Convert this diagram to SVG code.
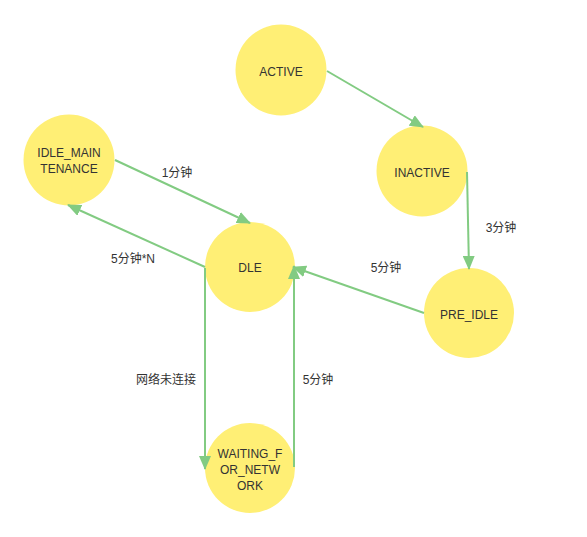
<svg xmlns="http://www.w3.org/2000/svg" width="587" height="537" viewBox="0 0 587 537">
<style>
.node circle{fill:#FFEF75;}
.node text{font-family:"Liberation Sans","Noto Sans CJK SC",sans-serif;font-size:12px;fill:#333;text-anchor:middle;dominant-baseline:central;}
.edge{stroke:#82CB82;stroke-width:2;fill:none;marker-end:url(#arr);}
.lbl{font-family:"Liberation Sans","Noto Sans CJK SC",sans-serif;font-size:12px;fill:#333;text-anchor:middle;dominant-baseline:central;}
</style>
<defs>
<marker id="arr" markerUnits="userSpaceOnUse" markerWidth="14" markerHeight="12" refX="13" refY="6" orient="auto">
<path d="M0,0 L14,6 L0,12 z" fill="#82CB82"/>
</marker>
</defs>
<rect width="587" height="537" fill="#fff"/>
<g id="nodes">
<g id="n-active" class="node"><circle cx="281" cy="70" r="45.5"/><text x="281" y="72">ACTIVE</text></g>
<g id="n-inactive" class="node"><circle cx="422" cy="171" r="45.5"/><text x="422" y="173">INACTIVE</text></g>
<g id="n-idle-maint" class="node"><circle cx="69" cy="160" r="45.5"/><text x="69" y="153">IDLE_MAIN</text><text x="69" y="169">TENANCE</text></g>
<g id="n-dle" class="node"><circle cx="250" cy="267" r="45"/><text x="250" y="268">DLE</text></g>
<g id="n-pre-idle" class="node"><circle cx="469" cy="313" r="45"/><text x="469" y="315">PRE_IDLE</text></g>
<g id="n-waiting" class="node"><circle cx="250" cy="468" r="45"/><text x="250" y="454">WAITING_F</text><text x="250" y="470">OR_NETW</text><text x="250" y="486">ORK</text></g>
</g>
<g id="connectors">
<path class="edge" d="M327,71 L423,127"/>
<path class="edge" d="M467,172 L469,269"/>
<path class="edge" d="M115,160 L250,223"/>
<path class="edge" d="M205,267 L68,205"/>
<path class="edge" d="M424,313 L293,267"/>
<path class="edge" d="M205,268 L205,469"/>
<path class="edge" d="M294,467 L294,266"/>
<text class="lbl" x="177" y="173">1分钟</text>
<text class="lbl" x="501" y="228">3分钟</text>
<text class="lbl" x="133" y="259">5分钟*N</text>
<text class="lbl" x="386" y="268">5分钟</text>
<text class="lbl" x="166" y="380">网络未连接</text>
<text class="lbl" x="318" y="380">5分钟</text>
</g>
</svg>
